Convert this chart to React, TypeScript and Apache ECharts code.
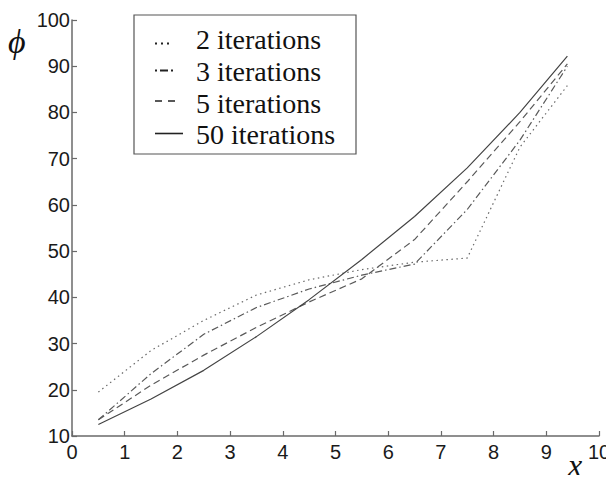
import React, { useEffect, useRef } from "react";
import * as echarts from "echarts";

const xNodes = [0.5, 1.5, 2.5, 3.5, 4.5, 5.5, 6.5, 7.5, 8.5, 9.4];
const iter2 = [19.5, 28.5, 35.0, 40.5, 43.8, 46.0, 47.6, 48.5, 72.5, 85.8];
const iter3 = [13.5, 23.5, 32.0, 37.8, 41.8, 44.8, 47.2, 59.0, 74.0, 90.0];
const iter5 = [13.5, 21.0, 27.5, 33.5, 39.0, 44.0, 52.5, 65.0, 78.0, 90.5];
const iter50 = [12.5, 18.0, 24.2, 31.5, 39.5, 48.2, 57.5, 68.0, 80.0, 92.2];
const seriesNames = ["2 iterations", "3 iterations", "5 iterations", "50 iterations"];
const xTicks = { min: 0, max: 10, interval: 1 };
const yTicks = { min: 10, max: 100, interval: 10 };

const pairs = (ys: number[]) => xNodes.map((x, i) => [x, ys[i]]);

export default function App() {
  const ref = useRef<HTMLDivElement>(null);
  useEffect(() => {
    if (!ref.current) return;
    const chart = echarts.init(ref.current, undefined, { renderer: "svg" });
    const axisColor = "#6a6a6a";
    const serif = "Liberation Serif, Times New Roman, serif";
    const labelStyle = {
      fontFamily: "Liberation Sans, Arial, sans-serif",
      fontSize: 20,
      color: "#1a1a1a",
    };
    const dashes: any[] = [[1.5, 3.5], [7, 3, 1.5, 3], [7, 4], "solid"];
    const colors = ["#6a6a6a", "#5a5a5a", "#5a5a5a", "#444"];
    const data = [iter2, iter3, iter5, iter50];
    const series = seriesNames.map((name, i) => ({
      name,
      type: "line",
      data: pairs(data[i]),
      showSymbol: false,
      symbol: "none",
      lineStyle: { width: 1.2, color: colors[i], type: dashes[i], cap: "butt" },
      z: 3,
    }));

    const rowY = [39.5, 71.5, 103, 134];
    const markerY = [43.5, 70.5, 101, 133.5];
    const markerEnd = [171, 173, 175, 183];
    const markerDash: any[] = [[2, 4], [2, 3, 8, 3], [7, 6], null];
    const markerWidth = [2, 2, 1.6, 1.6];
    const legendEls: any[] = [
      {
        type: "rect",
        shape: { x: 134, y: 15, width: 222, height: 139 },
        style: { fill: "#fff", stroke: "#555", lineWidth: 1.2 },
        z: 10,
      },
    ];
    seriesNames.forEach((name, i) => {
      legendEls.push({
        type: "line",
        shape: { x1: 155, y1: markerY[i], x2: markerEnd[i], y2: markerY[i] },
        style: {
          stroke: "#222",
          lineWidth: markerWidth[i],
          lineDash: markerDash[i] || undefined,
        },
        z: 11,
      });
      legendEls.push({
        type: "text",
        x: 196,
        y: rowY[i],
        style: {
          text: name,
          fontFamily: serif,
          fontSize: 28,
          fill: "#111",
          verticalAlign: "middle",
        },
        z: 11,
      });
    });

    chart.setOption({
      animation: false,
      backgroundColor: "#ffffff",
      grid: { left: 72, right: 15, top: 20, bottom: 47, containLabel: false, outerBoundsMode: "none" },
      xAxis: {
        type: "value",
        min: xTicks.min,
        max: xTicks.max,
        interval: xTicks.interval,
        splitLine: { show: false },
        axisLine: { show: true, lineStyle: { color: axisColor, width: 1.5 } },
        axisTick: { show: true, inside: true, length: 5, lineStyle: { color: axisColor, width: 1.2 } },
        axisLabel: { ...labelStyle, margin: 6 },
      },
      yAxis: {
        type: "value",
        min: yTicks.min,
        max: yTicks.max,
        interval: yTicks.interval,
        splitLine: { show: false },
        axisLine: { show: true, lineStyle: { color: axisColor, width: 1.5 } },
        axisTick: { show: true, inside: true, length: 5, lineStyle: { color: axisColor, width: 1.2 } },
        axisLabel: { ...labelStyle, margin: 2 },
      },
      graphic: [
        ...legendEls,
        {
          type: "text",
          x: 8,
          y: 24,
          style: {
            text: "ϕ",
            fontFamily: serif,
            fontStyle: "italic",
            fontSize: 34,
            fill: "#111",
          },
        },
        {
          type: "text",
          x: 568,
          y: 449,
          style: {
            text: "x",
            fontFamily: serif,
            fontStyle: "italic",
            fontSize: 32,
            fill: "#111",
          },
        },
      ],
      series,
    });
    return () => chart.dispose();
  }, []);
  return <div ref={ref} style={{ width: 614, height: 483, margin: -8 }} />;
}
